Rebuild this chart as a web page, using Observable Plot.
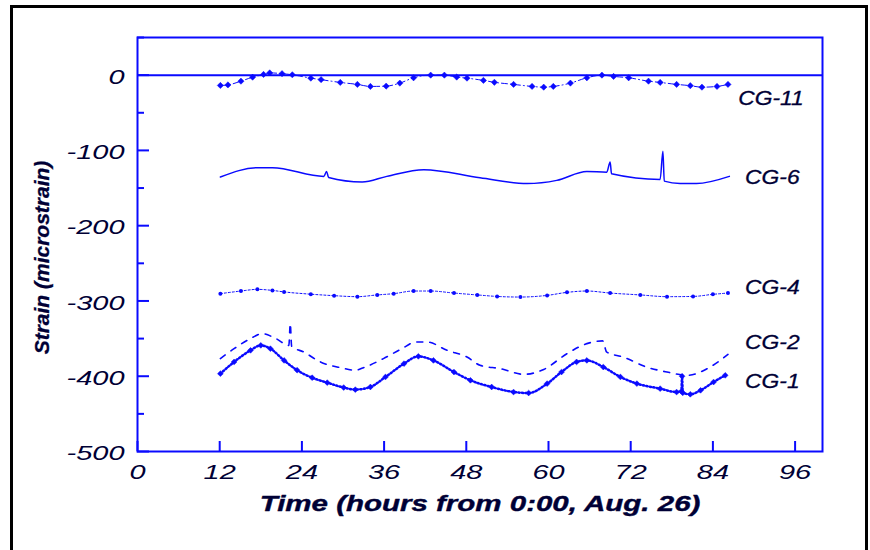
<!DOCTYPE html>
<html>
<head>
<meta charset="utf-8">
<script src="https://cdn.jsdelivr.net/npm/d3@7"></script>
<script src="https://cdn.jsdelivr.net/npm/@observablehq/plot@0.6"></script>
<style>
  html, body { margin: 0; padding: 0; background: #fff; }
  #chart { width: 870px; height: 550px; overflow: hidden; }
</style>
</head>
<body>
<div id="chart"></div>
<script>
// ---- data (time in hours, strain in microstrain) ----
const xTicks = [0, 12, 24, 36, 48, 60, 72, 84, 96];
const yMajor = [0, -100, -200, -300, -400, -500];
const yMinor = [50, -50, -150, -250, -350, -450];

const cg11 = [[12.1,-13.7],[13.2,-13],[15.1,-8],[16.8,-2.7],[18.4,0.9],[19.3,3],[21.1,2],[22.6,0.5],
  [25.3,-4],[26.8,-6],[29.6,-9.7],[32.1,-12.3],[34,-15],[36.3,-14.6],[38.3,-10.6],[40.3,-3.5],
  [42.8,0],[44.8,0],[46.6,-2.6],[48.1,-4],[50.5,-7],[52.1,-9.5],[54.9,-12.3],[57.6,-15],[59.3,-16],
  [60.7,-15],[63.2,-10.6],[65.6,-3.5],[67.8,0],[69.5,-1.7],[71.7,-3.5],[74.6,-8],[76.3,-9.7],
  [78.7,-12.3],[80.7,-14],[82.4,-16],[84.6,-15],[86.2,-12.3]];

const cg6 = [[12.1,-135.4],[17.5,-123],[19.7,-123],[27.2,-134.5],[27.6,-128],[27.9,-136],[32.8,-142],
  [36.4,-134.5],[41.8,-125.6],[50,-136.3],[56.9,-144],[61.2,-139.8],[65.6,-128],[68.5,-129],
  [69,-115.5],[69.2,-131],[76.3,-138.5],[76.7,-101],[76.9,-140.8],[79.2,-144],[81.6,-144],[86.4,-134.5]];

const cg4 = [[12.1,-290.3],[15.1,-286.8],[17.5,-284.6],[19.7,-286],[21.4,-288],[25.3,-291],[28.7,-293],
  [32.1,-294.3],[35,-292],[37.4,-290.3],[40.3,-286.8],[42.8,-286.8],[46.2,-289.5],[49.6,-292],
  [52.5,-294],[55.9,-294.8],[59.8,-292.6],[62.7,-288.6],[65.6,-286.8],[69,-289.5],[73.4,-292],
  [77.3,-294.3],[81.1,-294],[84,-291.2],[86.2,-289.5]];

const cg2 = [[12.1,-376.6],[14.1,-363.4],[16.5,-350],[18.2,-343.4],[20.2,-350],[22.1,-359],[22.3,-330],
  [22.5,-360],[24.3,-368],[26.7,-381],[29.6,-388.6],[31.8,-392],[33,-388.6],[35.9,-376.6],
  [38.6,-363.4],[40.6,-354.6],[42.3,-354.6],[45.2,-365.6],[48.1,-374.5],[50,-385.5],[53,-390],
  [56.4,-397.5],[59.3,-391],[62.7,-370],[65.6,-356.7],[67.9,-353],[68.5,-368],[70.9,-374.5],
  [74.3,-387.8],[77.3,-394.4],[80.2,-398.8],[83.6,-387.8],[86.2,-371]];

const cg1 = [[12.1,-396.6],[14.1,-381],[16.5,-365.6],[18,-359],[19.4,-363.4],[21.4,-379],[23.3,-392],
  [25.5,-402],[27.7,-408.5],[30.1,-415],[31.8,-417.8],[34,-414.3],[36.2,-401],[38.9,-383.3],
  [41,-373.6],[43.2,-379],[46.2,-394.4],[48.6,-405.4],[51.7,-414.3],[54.9,-421],[57.1,-422.3],
  [59.8,-409.8],[61.9,-394.4],[64.1,-381],[65.6,-379],[68,-387.8],[70.5,-401],[72.9,-409.8],
  [76.3,-416.5],[78.7,-421],[79.4,-420],[79.5,-400],[79.6,-422],[80.7,-424],[82.2,-418.7],
  [84.1,-407.7],[85.8,-398.8]];

const seriesNames = ["CG-11", "CG-6", "CG-4", "CG-2", "CG-1"];
const labelT = [87.7, 88.7, 88.7, 88.7, 88.7];
const labelV = [-31, -136, -282, -355, -407];
const xTitle = "Time (hours from 0:00, Aug. 26)";
const yTitle = "Strain (microstrain)";

// ---- build ----
const BLUE = "#0a0aff";
const INK = "#000035";
const FONT = "'Liberation Sans', Arial, sans-serif";
const rows = (arr) => arr.map(([t, v]) => ({t, v}));
const labels = seriesNames.map((name, i) => ({name, t: labelT[i], v: labelV[i]}));

const W = 870, H = 550, mL = 137, mR = 48, mT = 37, mB = 99;
const frameW = W - mL - mR, frameH = H - mT - mB;
const curve = "monotone-x";

const chart = Plot.plot({
  width: W, height: H,
  marginLeft: mL, marginRight: mR, marginTop: mT, marginBottom: mB,
  x: {domain: [0, 100], axis: null},
  y: {domain: [-500, 50], axis: null},
  style: {fontFamily: FONT, background: "#fff", overflow: "visible"},
  marks: [
    Plot.frame({stroke: BLUE, strokeWidth: 2}),
    Plot.ruleY([0], {stroke: BLUE, strokeWidth: 2}),
    Plot.tickX(xTicks, {x: d => d, stroke: BLUE, strokeWidth: 2, insetTop: frameH - 10}),
    Plot.tickY(yMajor, {y: d => d, stroke: BLUE, strokeWidth: 2, insetRight: frameW - 12}),
    Plot.tickY(yMinor, {y: d => d, stroke: BLUE, strokeWidth: 2, insetRight: frameW - 7}),
    Plot.axisX({ticks: xTicks, tickSize: 0, tickPadding: 13, label: null, tickFormat: d => String(d),
      fontSize: 21, fontStyle: "italic", fill: INK, stroke: INK, strokeWidth: 0.5}),
    Plot.axisY({ticks: yMajor, tickSize: 0, tickPadding: 13, label: null, tickFormat: d => String(d),
      fontSize: 21, fontStyle: "italic", fill: INK, stroke: INK, strokeWidth: 0.5, dy: 2}),

    // CG-11: diamonds with dash-dot line
    Plot.line(rows(cg11), {x: "t", y: "v", curve, stroke: BLUE, strokeWidth: 1, strokeDasharray: "6,3,1,3"}),
    Plot.dot(rows(cg11), {x: "t", y: "v", symbol: "diamond2", r: 2.8, fill: BLUE, stroke: BLUE, strokeWidth: 0.5}),
    // CG-6: solid line
    Plot.line(rows(cg6), {x: "t", y: "v", curve, stroke: BLUE, strokeWidth: 1.5}),
    // CG-4: small dots with thin line
    Plot.line(rows(cg4), {x: "t", y: "v", curve, stroke: BLUE, strokeWidth: 1, strokeDasharray: "2,2"}),
    Plot.dot(rows(cg4), {x: "t", y: "v", r: 2, fill: BLUE, stroke: "none"}),
    // CG-2: dashed line
    Plot.line(rows(cg2), {x: "t", y: "v", curve, stroke: BLUE, strokeWidth: 1.6, strokeDasharray: "6,7"}),
    // CG-1: hatched dotted line with diamonds
    Plot.line(rows(cg1), {x: "t", y: "v", curve, stroke: BLUE, strokeWidth: 2.5, strokeDasharray: "1.2,2.3"}),
    Plot.dot(rows(cg1), {x: "t", y: "v", symbol: "diamond2", r: 2.6, fill: BLUE, stroke: BLUE, strokeWidth: 0.5}),

    // series labels
    Plot.text(labels, {x: "t", y: "v", text: "name", textAnchor: "start", fontSize: 20,
      fontStyle: "italic", fill: INK, stroke: INK, strokeWidth: 0.3}),
    // axis titles
    Plot.text([xTitle], {frameAnchor: "bottom", lineAnchor: "middle", textAnchor: "middle",
      dy: 52, fontSize: 22, fontWeight: "bold", fontStyle: "italic", fill: INK, stroke: INK, strokeWidth: 0.4}),
    Plot.text([yTitle], {frameAnchor: "left", textAnchor: "middle", lineAnchor: "middle",
      dx: -95, dy: 13, rotate: -90, fontSize: 21,
      fontWeight: "bold", fontStyle: "italic", fill: INK, stroke: INK, strokeWidth: 0.3})
  ]
});

document.getElementById("chart").appendChild(chart);

// outer black border of the original figure
d3.select(chart).append("rect")
  .attr("x", 11.5).attr("y", 6.5).attr("width", 855).attr("height", 560)
  .attr("fill", "none").attr("stroke", "#000").attr("stroke-width", 3);

// the original raster is stretched horizontally; widen horizontal text accordingly
function stretchNode(t, k) {
  const L = t.getComputedTextLength();
  t.setAttribute("textLength", (L * k).toFixed(1));
  t.setAttribute("lengthAdjust", "spacingAndGlyphs");
}
const xTickStr = xTicks.map(String), yTickStr = yMajor.map(String);
chart.querySelectorAll("text").forEach(t => {
  const s = t.textContent;
  const inXAxis = t.closest('g[aria-label="x-axis tick label"]');
  const inYAxis = t.closest('g[aria-label="y-axis tick label"]');
  if (inXAxis && xTickStr.includes(s)) stretchNode(t, 1.38);
  else if (inYAxis && yTickStr.includes(s)) stretchNode(t, 1.38);
  else if (s === xTitle) stretchNode(t, 1.34);
  else if (seriesNames.includes(s)) stretchNode(t, 1.14);
});
</script>
</body>
</html>
